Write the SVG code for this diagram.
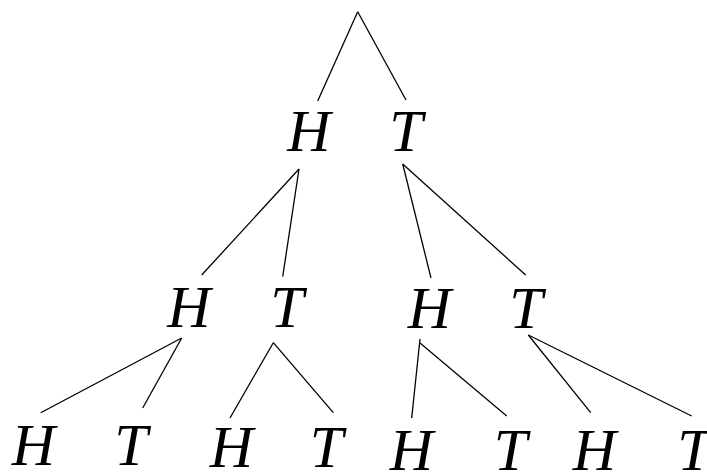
<svg xmlns="http://www.w3.org/2000/svg" width="707" height="473" viewBox="0 0 707 473">
<style>
text{font-family:"Liberation Serif","Times New Roman",serif;font-style:italic;font-size:60px;fill:#000;text-anchor:middle}
line{stroke:#000;stroke-width:1.3}
</style>
<rect width="707" height="473" fill="#fff"/>
<g id="connectors">
<line x1="357.7" y1="11.7" x2="317.7" y2="101"/>
<line x1="357.7" y1="11.7" x2="406" y2="100"/>
<line x1="299" y1="169" x2="201.7" y2="275"/>
<line x1="299" y1="169" x2="282.7" y2="276.7"/>
<line x1="402.7" y1="164" x2="431" y2="278"/>
<line x1="402.7" y1="164" x2="525.7" y2="275"/>
<line x1="181.7" y1="338" x2="40.7" y2="412.7"/>
<line x1="181.7" y1="338" x2="142.7" y2="408"/>
<line x1="273.3" y1="342.7" x2="230" y2="418"/>
<line x1="273.3" y1="342.7" x2="333.3" y2="412.7"/>
<line x1="420" y1="339" x2="411.7" y2="418"/>
<line x1="420" y1="343" x2="506.7" y2="416"/>
<line x1="528.3" y1="335" x2="590.7" y2="412.7"/>
<line x1="528.3" y1="335" x2="691.7" y2="416"/>
</g>
<g id="n1"><text x="309" y="151">H</text></g>
<g id="n2"><text x="406" y="151">T</text></g>
<g id="n3"><text x="189" y="327">H</text></g>
<g id="n4"><text x="287" y="327">T</text></g>
<g id="n5"><text x="429.5" y="327.5">H</text></g>
<g id="n6"><text x="526" y="327.5">T</text></g>
<g id="n7"><text x="33.5" y="465">H</text></g>
<g id="n8"><text x="131" y="465">T</text></g>
<g id="n9"><text x="231.5" y="467">H</text></g>
<g id="n10"><text x="326.5" y="467">T</text></g>
<g id="n11"><text x="411.5" y="470">H</text></g>
<g id="n12"><text x="510.5" y="469.5">T</text></g>
<g id="n13"><text x="594.5" y="470">H</text></g>
<g id="n14"><text x="694" y="470">T</text></g>
</svg>
